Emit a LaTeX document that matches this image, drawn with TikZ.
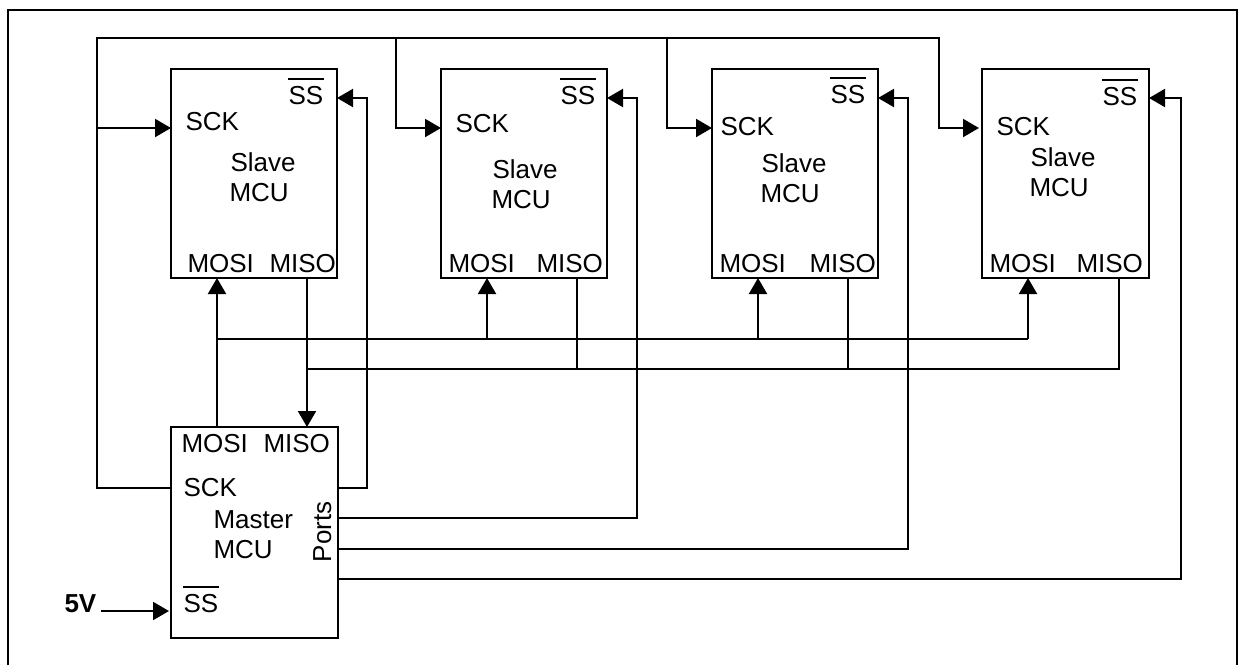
\documentclass[tikz,border=0pt]{standalone}
\usepackage{fontspec}
\setmainfont{Liberation Sans}
\usetikzlibrary{arrows.meta}
\newcommand{\ssbar}{\rlap{\kern-0.5pt\rule[24pt]{36pt}{2pt}}SS}

\begin{document}
\begin{tikzpicture}[
  x=1pt, y=-1pt, line width=2pt,
  >={Triangle[length=16pt,width=18pt]},
  every node/.style={font=\fontsize{26}{30}\selectfont},
  mcu/.style={draw, anchor=north west, inner sep=0pt, outer sep=0pt, minimum width=166pt, minimum height=209pt},
  lbl/.style={inner sep=0pt, anchor=base west, xshift=-1.5pt}
]
  \useasboundingbox (0,0) rectangle (1239,665);
  \draw (8,665) -- (8,10) -- (1237,10) -- (1237,665);

  \node[mcu] (s1) at (171,69) {};
  \node[mcu] (s2) at (441,69) {};
  \node[mcu] (s3) at (712,69) {};
  \node[mcu, minimum width=167pt] (s4) at (982,69) {};
  \node[mcu, minimum width=167pt, minimum height=211pt] (master) at (171,427) {};

  \node[lbl] (s1a) at (186,130) {SCK};
  \node[lbl] (s1b) at (289,104) {\ssbar};
  \node[lbl] (s1c) at (231,171) {Slave};
  \node[lbl] (s1d) at (230,201) {MCU};
  \node[lbl] (s1e) at (188,272) {MOSI};
  \node[lbl] (s1f) at (270,272) {MISO};

  \node[lbl] (s2a) at (456,132) {SCK};
  \node[lbl] (s2b) at (561,104) {\ssbar};
  \node[lbl] (s2c) at (493,178) {Slave};
  \node[lbl] (s2d) at (492,208) {MCU};
  \node[lbl] (s2e) at (449,272) {MOSI};
  \node[lbl] (s2f) at (537,272) {MISO};

  \node[lbl] (s3a) at (721,135) {SCK};
  \node[lbl] (s3b) at (831,103) {\ssbar};
  \node[lbl] (s3c) at (762,172) {Slave};
  \node[lbl] (s3d) at (761,202) {MCU};
  \node[lbl] (s3e) at (720,272) {MOSI};
  \node[lbl] (s3f) at (810,272) {MISO};

  \node[lbl] (s4a) at (997,135) {SCK};
  \node[lbl] (s4b) at (1103,105) {\ssbar};
  \node[lbl] (s4c) at (1031,166) {Slave};
  \node[lbl] (s4d) at (1030,196) {MCU};
  \node[lbl] (s4e) at (990,272) {MOSI};
  \node[lbl] (s4f) at (1077,272) {MISO};

  \node[lbl] (ma) at (182,452) {MOSI};
  \node[lbl] (mb) at (264,452) {MISO};
  \node[lbl] (mc) at (184,496) {SCK};
  \node[lbl] (md) at (214,528) {Master};
  \node[lbl] (me) at (214,558) {MCU};
  \node[lbl] (mf) at (184,612) {\ssbar};
  \node[lbl, rotate=90] (mg) at (332.5,563) {Ports};
  \node[lbl, font=\fontsize{26}{30}\selectfont\bfseries] (five) at (65,612) {5V};

  \coordinate (s1ck) at ([yshift=-59pt]s1.north west);
  \coordinate (s2ck) at ([yshift=-59pt]s2.north west);
  \coordinate (s3ck) at ([yshift=-59pt]s3.north west);
  \coordinate (s4ck) at ([yshift=-59pt, xshift=-3pt]s4.north west);
  \coordinate (s1ss) at ([yshift=-29pt]s1.north east);
  \coordinate (s2ss) at ([yshift=-29pt]s2.north east);
  \coordinate (s3ss) at ([yshift=-29pt]s3.north east);
  \coordinate (s4ss) at ([yshift=-29pt]s4.north east);
  \coordinate (s1mo) at ([xshift=46pt]s1.south west);
  \coordinate (s2mo) at ([xshift=46pt]s2.south west);
  \coordinate (s3mo) at ([xshift=46pt]s3.south west);
  \coordinate (s4mo) at ([xshift=46pt]s4.south west);
  \coordinate (s1mi) at ([xshift=136pt]s1.south west);
  \coordinate (s2mi) at ([xshift=136pt]s2.south west);
  \coordinate (s3mi) at ([xshift=136pt]s3.south west);
  \coordinate (s4mi) at ([xshift=137pt]s4.south west);
  \coordinate (mmo) at ([xshift=46pt]master.north west);
  \coordinate (mmi) at ([xshift=136pt]master.north west);
  \coordinate (mck) at ([yshift=-61pt]master.north west);
  \coordinate (mss) at ([yshift=-184pt, xshift=-2pt]master.north west);
  \coordinate (mp0) at ([yshift=-61pt]master.north east);
  \coordinate (mp1) at ([yshift=-91pt]master.north east);
  \coordinate (mp2) at ([yshift=-122pt]master.north east);
  \coordinate (mp3) at ([yshift=-152pt]master.north east);
  \coordinate (r1) at ([xshift=30pt]s1ss);
  \coordinate (r2) at ([xshift=30pt]s2ss);
  \coordinate (r3) at ([xshift=30pt]s3ss);
  \coordinate (r4) at ([xshift=32pt]s4ss);
  \coordinate (busT) at (97,38);
  \coordinate (c2) at (396,38);
  \coordinate (c3) at (667,38);
  \coordinate (c4) at (939,38);
  \coordinate (busA) at (217,339);
  \coordinate (busB) at (307,369);

  \draw[->] (mck) -| (busT) -- (c4) |- (s4ck);
  \draw[->] (busT |- s1ck) -- (s1ck);
  \draw[->] (c2) |- (s2ck);
  \draw[->] (c3) |- (s3ck);

  \draw[->] (mmo) -- (s1mo);
  \draw (busA) -- (s4mo |- busA);
  \draw[->] (s2mo |- busA) -- (s2mo);
  \draw[->] (s3mo |- busA) -- (s3mo);
  \draw[->] (s4mo |- busA) -- (s4mo);

  \draw[->] (s1mi) -- (mmi);
  \draw (busB) -| (s4mi);
  \draw (s2mi) -- (s2mi |- busB);
  \draw (s3mi) -- (s3mi |- busB);

  \draw[->] (mp0) -| (r1) -- (s1ss);
  \draw[->] (mp1) -| (r2) -- (s2ss);
  \draw[->] (mp2) -| (r3) -- (s3ss);
  \draw[->] (mp3) -| (r4) -- (s4ss);

  \draw[->] ([xshift=4pt]five.east |- mss) -- (mss);
\end{tikzpicture}
\end{document}
